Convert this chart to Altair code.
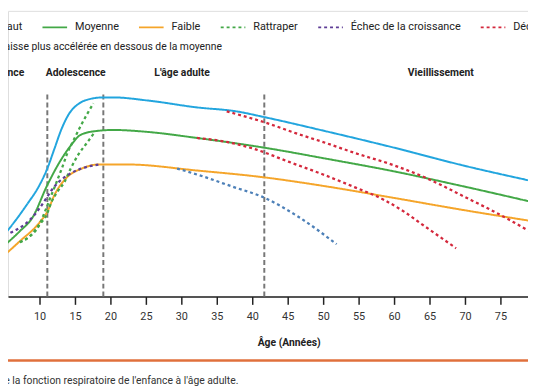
import altair as alt
import pandas as pd

FONT = "Roboto"

# ---- data ----
series_names = ["Haut", "Moyenne", "Faible", "Rattraper", "Échec de la croissance", "Déclin accéléré"]
series_colors = ["#22A5DE", "#43A847", "#F5A52A", "#43A847", "#5E3D96", "#D4283C"]
baisse_name = "Baisse plus accélérée en dessous de la moyenne"
baisse_color = "#4D80B8"

haut_age = [4.44, 5.83, 8.2, 10.0, 11.1, 12.1, 13.1, 14.2, 15.6, 16.9, 19.0, 20.4, 25.3, 32.2, 37.8, 41.7, 50.3, 60.0, 69.7, 78.9]
haut_val = [20.0, 24.1, 32.1, 39.0, 44.8, 51.7, 58.6, 64.1, 67.6, 69.0, 69.7, 69.7, 68.6, 66.2, 64.8, 62.8, 57.9, 52.1, 45.9, 40.7]

moy_age = [4.44, 7.2, 9.0, 11.1, 12.8, 14.4, 15.8, 17.9, 20.4, 25.3, 32.2, 41.7, 50.3, 60.0, 69.7, 78.9]
moy_val = [16.6, 22.8, 27.6, 39.0, 46.9, 52.8, 56.6, 57.9, 58.3, 57.6, 55.5, 52.1, 48.3, 43.8, 38.6, 33.4]

faible_age = [4.44, 7.2, 10.0, 11.1, 12.1, 13.75, 15.97, 18.3, 22.5, 32.2, 41.7, 50.3, 60.0, 69.7, 78.9]
faible_val = [13.1, 19.3, 25.9, 29.7, 35.5, 41.4, 44.8, 46.2, 46.2, 44.1, 41.7, 38.6, 34.5, 30.3, 26.6]

ratt_haut_age = [7.22, 8.61, 10.0, 10.7, 11.4, 12.4, 13.2, 13.9, 14.9, 15.8, 16.7, 17.6]
ratt_haut_val = [19.0, 21.0, 25.2, 29.3, 33.8, 40.0, 45.2, 50.0, 55.2, 59.7, 63.8, 67.6]

ratt_moy_age = [7.22, 8.61, 10.0, 11.0, 11.7, 12.5, 13.5, 14.4, 15.56, 16.7, 17.6]
ratt_moy_val = [19.0, 21.0, 25.2, 28.6, 33.1, 36.6, 40.0, 44.8, 50.0, 53.8, 56.9]

echec_age = [5.14, 6.53, 7.9, 9.3, 10.7, 11.7, 12.8, 14.2, 15.6, 16.9, 18.3]
echec_val = [21.4, 23.1, 25.2, 28.6, 33.4, 37.2, 40.3, 42.8, 44.5, 45.5, 46.2]

declin_haut_age = [36.4, 41.7, 46.1, 50.3, 54.4, 60.0, 64.6, 69.7, 75.7, 78.9]
declin_haut_val = [64.8, 61.0, 57.2, 53.8, 50.3, 45.9, 41.4, 35.2, 27.6, 23.1]

declin_moy_age = [32.2, 36.4, 40.6, 45.1, 49.9, 54.4, 58.6, 61.4, 64.2, 68.75]
declin_moy_val = [55.5, 54.1, 51.4, 47.2, 42.8, 38.3, 33.8, 29.7, 24.8, 16.9]

baisse_age = [29.4, 32.6, 37.4, 41.5, 46.5, 51.9]
baisse_val = [44.8, 42.4, 38.3, 34.8, 27.9, 18.3]

phase_names = ["Enfance", "Adolescence", "L'âge adulte", "Vieillissement"]
phase_ages = [5.2, 15.1, 30.1, 66.6]

divider_ages = [11.1, 19.0, 41.7]
tick_values = [10, 15, 20, 25, 30, 35, 40, 45, 50, 55, 60, 65, 70, 75]

caption_text = "Figure 1 : Trajectoires de la fonction respiratoire de l'enfance à l'âge adulte."

# ---- build tables ----
curves = [
    ("Haut", "haut", haut_age, haut_val),
    ("Moyenne", "moy", moy_age, moy_val),
    ("Faible", "faible", faible_age, faible_val),
    ("Rattraper", "ratt1", ratt_haut_age, ratt_haut_val),
    ("Rattraper", "ratt2", ratt_moy_age, ratt_moy_val),
    ("Échec de la croissance", "echec", echec_age, echec_val),
    ("Déclin accéléré", "decl1", declin_haut_age, declin_haut_val),
    ("Déclin accéléré", "decl2", declin_moy_age, declin_moy_val),
]
rows = []
for s, c, ages, vals in curves:
    for a, v in zip(ages, vals):
        rows.append({"age": a, "val": v, "serie": s, "courbe": c})
df = pd.DataFrame(rows)
df_baisse = pd.DataFrame({"age": baisse_age, "val": baisse_val, "serie_b": [baisse_name] * len(baisse_age)})

solid_names = ["Haut", "Moyenne", "Faible"]
df_solid = df[df.serie.isin(solid_names)]
df_dash = df[~df.serie.isin(solid_names)]

xscale = alt.Scale(domain=[5.5556, 78.8889], nice=False, zero=False)
yscale = alt.Scale(domain=[0, 100], nice=False, zero=False)
color_scale = alt.Scale(domain=series_names, range=series_colors)
dash_scale = alt.Scale(domain=series_names,
                       range=[[1, 0], [1, 0], [1, 0], [3, 3], [3, 3], [3, 3]])

legend = alt.Legend(
    title=None, orient="none", legendX=-43, legendY=3, direction="horizontal",
    symbolType="stroke", symbolSize=625, symbolStrokeWidth=2,
    labelFont=FONT, labelFontSize=11, labelColor="#222", labelOffset=7,
    labelLimit=400, columnPadding=16, padding=0,
)

legend_b = alt.Legend(
    title=None, orient="none", legendX=-44, legendY=23, direction="horizontal",
    symbolType="stroke", symbolSize=625, symbolStrokeWidth=2,
    symbolStrokeColor=baisse_color, symbolDash=[3, 3],
    labelFont=FONT, labelFontSize=10.5, labelColor="#222", labelOffset=7,
    labelLimit=400, padding=0,
)

xaxis = alt.Axis(
    values=tick_values, title="Âge (Années)", titleX=285, titleY=47,
    titleBaseline="middle", titleAlign="center",
    titleFont=FONT, titleFontSize=10.5, titleFontWeight="bold", titleColor="#222",
    labelFont=FONT, labelFontSize=11, labelColor="#333", labelPadding=6,
    tickSize=8, tickWidth=1.5, tickColor="#222", domainColor="#222", domainWidth=1.5,
    grid=False, labelFlush=False, labelOverlap=False,
)

base_x = alt.X("age:Q", scale=xscale, axis=xaxis)

dividers = alt.Chart(pd.DataFrame({"age": divider_ages, "y0": [0] * 3, "y1": [71] * 3})).mark_rule(
    color="#777", strokeWidth=2, strokeDash=[5, 3]
).encode(x=base_x, y=alt.Y("y0:Q", scale=yscale, axis=None), y2="y1:Q")

solid = alt.Chart(df_solid).mark_line(strokeWidth=2, interpolate="monotone", clip=True).encode(
    x=base_x,
    y=alt.Y("val:Q", scale=yscale, axis=None),
    color=alt.Color("serie:N", scale=color_scale, legend=legend),
    strokeDash=alt.StrokeDash("serie:N", scale=dash_scale, legend=legend),
    detail="courbe:N",
)

dashed = alt.Chart(df_dash).mark_line(strokeWidth=2.3, interpolate="monotone", clip=True).encode(
    x=base_x,
    y=alt.Y("val:Q", scale=yscale, axis=None),
    color=alt.Color("serie:N", scale=color_scale, legend=legend),
    strokeDash=alt.StrokeDash("serie:N", scale=dash_scale, legend=legend),
    detail="courbe:N",
)

baisse = alt.Chart(df_baisse).mark_line(
    strokeWidth=2.3, interpolate="monotone", clip=True, color=baisse_color, strokeDash=[3, 3]
).encode(
    x=base_x,
    y=alt.Y("val:Q", scale=yscale, axis=None),
    opacity=alt.Opacity("serie_b:N", scale=alt.Scale(domain=[baisse_name], range=[1]), legend=legend_b),
)

phases = alt.Chart(pd.DataFrame({"age": phase_ages, "nom": phase_names})).mark_text(
    font=FONT, fontSize=10.5, fontWeight="bold", color="#222", baseline="middle", align="center"
).encode(x=base_x, y=alt.value(63), text="nom:N")

caption = alt.Chart(pd.DataFrame({"t": [caption_text]})).mark_text(
    font=FONT, fontSize=10.5, color="#333", align="right", baseline="middle"
).encode(x=alt.value(234), y=alt.value(376), text="t:N")

orange_rule = alt.Chart(pd.DataFrame({"a": [0]})).mark_rule(color="#E0703C", strokeWidth=2.5).encode(
    x=alt.value(0), x2=alt.value(528), y=alt.value(355)
)

chart = alt.layer(dividers, solid, dashed, baisse, phases, caption, orange_rule).properties(
    width=528, height=290,
    autosize=alt.AutoSizeParams(type="none"),
    padding={"left": 0, "top": 0, "right": 0, "bottom": 88},
).configure_view(stroke=None).configure(font=FONT)

chart.save("out.html", embed_options={"renderer": "svg", "actions": False})
